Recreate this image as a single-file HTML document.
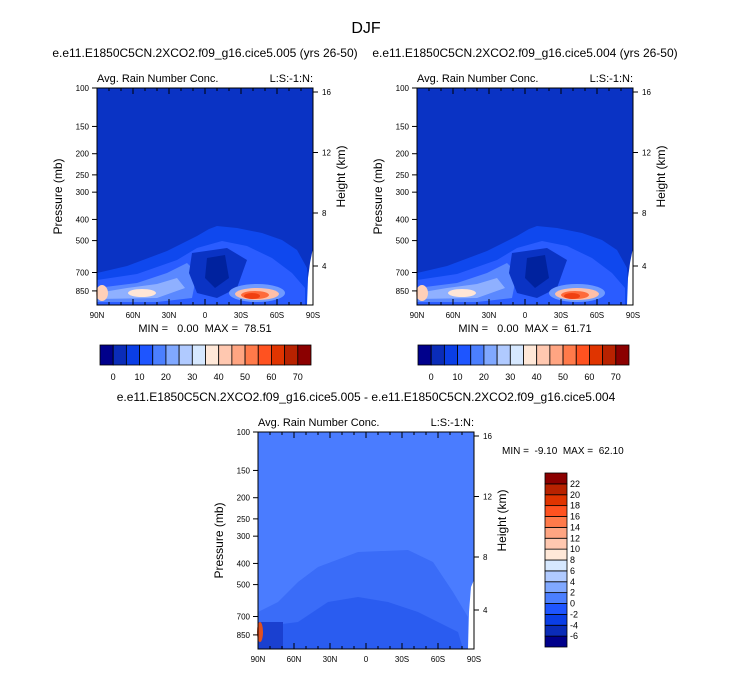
<!DOCTYPE html>
<html><head><meta charset="utf-8"><style>
body{margin:0;background:#fff}
svg text{font-family:"Liberation Sans",sans-serif;fill:#000;white-space:pre}
</style></head><body>
<svg width="733" height="673" viewBox="0 0 733 673" xmlns="http://www.w3.org/2000/svg">
<defs>
<g id="field">
  <rect x="0" y="0" width="216" height="217" fill="#0a33c4"/>
  <polygon fill="#0f48ee" points="0,185 30,178 70,163 100,148 112,141 120,138 140,140 165,145 185,152 200,162 210,180 212,217 0,217"/>
  <polygon fill="#2a5cff" points="0,192 40,186 80,172 100,160 125,153 150,158 175,170 195,185 208,200 208,217 0,217"/>
  <polygon fill="#5a88ff" points="0,200 40,195 70,185 90,175 100,185 95,210 60,214 0,214"/>
  <polygon fill="#8fb0ff" points="0,205 30,200 60,196 80,190 88,200 60,210 0,211"/>
  <ellipse cx="45" cy="205" rx="14" ry="4" fill="#ffe6d6"/>
  <ellipse cx="5" cy="205" rx="6" ry="8" fill="#ffd0b8"/>
  <polygon fill="#0a33c4" points="95,165 130,160 150,172 140,200 120,210 100,205 92,185"/>
  <polygon fill="#00229e" points="110,170 128,167 132,190 118,200 108,190"/>
  <ellipse cx="160" cy="205" rx="28" ry="9" fill="#6f9aff"/>
  <ellipse cx="160" cy="206" rx="22" ry="6" fill="#ffc0a8"/>
  <ellipse cx="158" cy="207" rx="14" ry="4" fill="#ff6a3a"/>
  <ellipse cx="155" cy="208" rx="8" ry="3" fill="#f04010"/>
  <polygon fill="#fff" points="216,160 213,175 211,190 210,217 216,217"/>
</g>
</defs>
<text x="366" y="33" font-size="16" text-anchor="middle">DJF</text>
</svg>
<script>
const pLabels=["100","150","200","250","300","400","500","700","850"];
const pVals=[100,150,200,250,300,400,500,700,850];
const hLabels=["16","12","8","4"];
const hVals=[16,12,8,4];
const latLabels=["90N","60N","30N","0","30S","60S","90S"];
const latVals=[90,60,30,0,-30,-60,-90];
const cbColors=["#00008b","#0a2cb8","#0a3ee6","#1e55ff","#4b7fff","#80a8ff","#b0caff","#d6e8ff","#ffe8d8","#ffc8b0","#ffa582","#ff7a4a","#ff5220","#e03400","#b82200","#8b0000"];
const cbLabels1=["0","10","20","30","40","50","60","70"];
const cbLabels2=["22","20","18","16","14","12","10","8","6","4","2","0","-2","-4","-6"];
const NS="http://www.w3.org/2000/svg";
const svg=document.querySelector('svg');
function mk(t,a,p){const e=document.createElementNS(NS,t);for(const k in a)e.setAttribute(k,a[k]);(p||svg).appendChild(e);return e;}
function panel(x0,y0,title,stats,diff,name){
  const W=216,H=217;
  const g=mk('g',{});
  
  
  if(title){const t=mk('text',{x:x0+108,y:y0-31,'font-size':12,'text-anchor':'middle'},g);t.textContent=title;}
  let t=mk('text',{x:x0,y:y0-6,'font-size':11},g);t.textContent="Avg. Rain Number Conc.";
  t=mk('text',{x:x0+W,y:y0-6,'font-size':11,'text-anchor':'end'},g);t.textContent="L:S:-1:N:";
  if(diff){
    const d=mk('g',{},g);
    mk('rect',{x:x0,y:y0,width:W,height:H,fill:'#4a7cff'},d);
    mk('polygon',{fill:'#3a6cf8',points:[[0,180],[20,170],[40,150],[60,135],[100,120],[150,118],[175,130],[195,160],[210,185],[210,217],[0,217]].map(q=>(x0+q[0])+','+(y0+q[1])).join(' ')},d);
    mk('polygon',{fill:'#2a5cf0',points:[[0,195],[40,190],[70,170],[100,165],[130,170],[160,180],[200,200],[205,217],[0,217]].map(q=>(x0+q[0])+','+(y0+q[1])).join(' ')},d);
    mk('rect',{x:x0,y:y0+190,width:25,height:27,fill:'#1a40d0'},d);
    mk('ellipse',{cx:x0+2,cy:y0+200,rx:3,ry:10,fill:'#e05020'},d);
    mk('polygon',{fill:'#fff',points:[[216,148],[213,155],[211,180],[210,217],[216,217]].map(q=>(x0+q[0])+','+(y0+q[1])).join(' ')},d);
  }else{
    const u=mk('use',{href:'#field',x:x0,y:y0},g);
  }
  mk('rect',{x:x0,y:y0,width:W,height:H,fill:'none',stroke:'#000','stroke-width':1},g);
  pVals.forEach((p,i)=>{const y=y0+(Math.log(p)-Math.log(100))/(Math.log(900)-Math.log(100))*H*0.96;
    mk('line',{x1:x0-5,x2:x0,y1:y,y2:y,stroke:'#000'},g);
    const tt=mk('text',{x:x0-8,y:y+3,'font-size':8,'text-anchor':'end'},g);tt.textContent=pLabels[i];});
  hVals.forEach((h,i)=>{const y=y0+4+(16-h)/4*(h>=8?60.5:53)+(h<8?60.5*2-53*2:0);
    mk('line',{x1:x0+W,x2:x0+W+5,y1:y,y2:y,stroke:'#000'},g);
    const tt=mk('text',{x:x0+W+9,y:y+3,'font-size':8},g);tt.textContent=hLabels[i];});
  latVals.forEach((l,i)=>{const x=x0+(90-l)/180*W;
    mk('line',{x1:x,x2:x,y1:y0+H,y2:y0+H-6,stroke:'#000'},g);
    mk('line',{x1:x,x2:x,y1:y0,y2:y0+6,stroke:'#000'},g);
    const tt=mk('text',{x:x,y:y0+H+13,'font-size':8,'text-anchor':'middle'},g);tt.textContent=latLabels[i];});
  for(let k=10;k<180;k+=10){if(k%30==0)continue;
    mk('line',{x1:x0+k/180*W,x2:x0+k/180*W,y1:y0+H,y2:y0+H-3,stroke:'#000'},g);
    mk('line',{x1:x0+k/180*W,x2:x0+k/180*W,y1:y0,y2:y0+3,stroke:'#000'},g);}
  t=mk('text',{x:x0-35,y:y0+H/2,'font-size':12,'text-anchor':'middle',transform:`rotate(-90 ${x0-35} ${y0+H/2})`},g);t.textContent="Pressure (mb)";
  t=mk('text',{x:x0+W+32,y:y0+H/2-20,'font-size':12,'text-anchor':'middle',transform:`rotate(-90 ${x0+W+32} ${y0+H/2-20})`},g);t.textContent="Height (km)";
  if(stats&&!diff){t=mk('text',{x:x0+108,y:y0+H+27,'font-size':11,'text-anchor':'middle'},g);t.textContent=stats;}
}
function hbar(x0,y0){
  const g=mk('g',{});
  const w=211/16;
  cbColors.forEach((c,i)=>{const r=mk('rect',{x:x0+i*w,y:y0,width:w,height:20,fill:c,stroke:'#000','stroke-width':0.8},g);});
  cbLabels1.forEach((l,i)=>{const t=mk('text',{x:x0+w*(1+2*i),y:y0+35,'font-size':9,'text-anchor':'middle'},g);t.textContent=l;});
}
panel(97,88,"e.e11.E1850C5CN.2XCO2.f09_g16.cice5.005 (yrs 26-50)","MIN =   0.00  MAX =  78.51",false,'panel-case1');
panel(417,88,"e.e11.E1850C5CN.2XCO2.f09_g16.cice5.004 (yrs 26-50)","MIN =   0.00  MAX =  61.71",false,'panel-case2');
panel(258,432,"e.e11.E1850C5CN.2XCO2.f09_g16.cice5.005 - e.e11.E1850C5CN.2XCO2.f09_g16.cice5.004",null,true,'panel-diff');
hbar(100,345);hbar(418,345);
(function(){const g=mk('g',{});
  const x0=545,y0=473,h=174/16;
  cbColors.forEach((c,i)=>{const r=mk('rect',{x:x0,y:y0+(15-i)*h,width:22,height:h,fill:c,stroke:'#000','stroke-width':0.8},g);});
  cbLabels2.forEach((l,i)=>{const t=mk('text',{x:x0+25,y:y0+h*(i+1)+3,'font-size':9},g);t.textContent=l;});
  const t=mk('text',{x:502,y:454,'font-size':10},g);t.textContent="MIN =  -9.10  MAX =  62.10";
})();
</script>
</body></html>
